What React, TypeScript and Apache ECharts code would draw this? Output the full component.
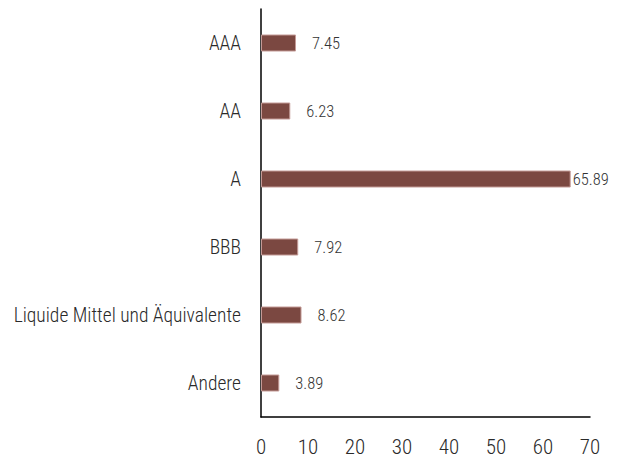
import React, { useEffect, useRef } from "react";
import * as echarts from "echarts";

const categories = ["AAA", "AA", "A", "BBB", "Liquide Mittel und Äquivalente", "Andere"];
const values = [7.45, 6.23, 65.89, 7.92, 8.62, 3.89];
const xTicks = { min: 0, max: 70, interval: 10 };

const FONT = '"Roboto Condensed", "Liberation Sans Narrow", "DejaVu Sans Condensed", sans-serif';

export default function App() {
  const ref = useRef<HTMLDivElement>(null);
  useEffect(() => {
    if (!ref.current) return;
    const chart = echarts.init(ref.current, undefined, { renderer: "svg" });
    chart.setOption({
      animation: false,
      grid: { left: 261, right: 29, top: 9, bottom: 40, containLabel: false },
      xAxis: {
        type: "value",
        min: xTicks.min,
        max: xTicks.max,
        interval: xTicks.interval,
        axisLine: { show: true, lineStyle: { color: "#000", width: 1.5 } },
        axisTick: { show: false },
        splitLine: { show: false },
        axisLabel: { color: "#2a2a2a", fontFamily: FONT, fontWeight: 300, fontSize: 21, margin: 19 },
      },
      yAxis: {
        type: "category",
        inverse: true,
        data: categories,
        axisLine: { show: true, lineStyle: { color: "#000", width: 1.5 } },
        axisTick: { show: false },
        axisLabel: { color: "#2a2a2a", fontFamily: FONT, fontWeight: 300, fontSize: 19.5, margin: 20 },
      },
      series: [
        {
          type: "bar",
          barWidth: 17,
          data: values.map((v, i) => ({
            value: v,
            label: { distance: i === 2 ? 2 : 16 },
          })),
          itemStyle: { color: "#7b4841", borderColor: "#c49a96", borderWidth: 1 },
          label: {
            show: true,
            position: "right",
            color: "#333333",
            fontFamily: FONT,
            fontWeight: 300,
            fontSize: 16.5,
            formatter: (p: any) => p.value.toFixed(2),
          },
        },
      ],
    });
    return () => chart.dispose();
  }, []);
  return <div ref={ref} style={{ width: 619, height: 457, position: "absolute", left: 0, top: 0 }} />;
}
